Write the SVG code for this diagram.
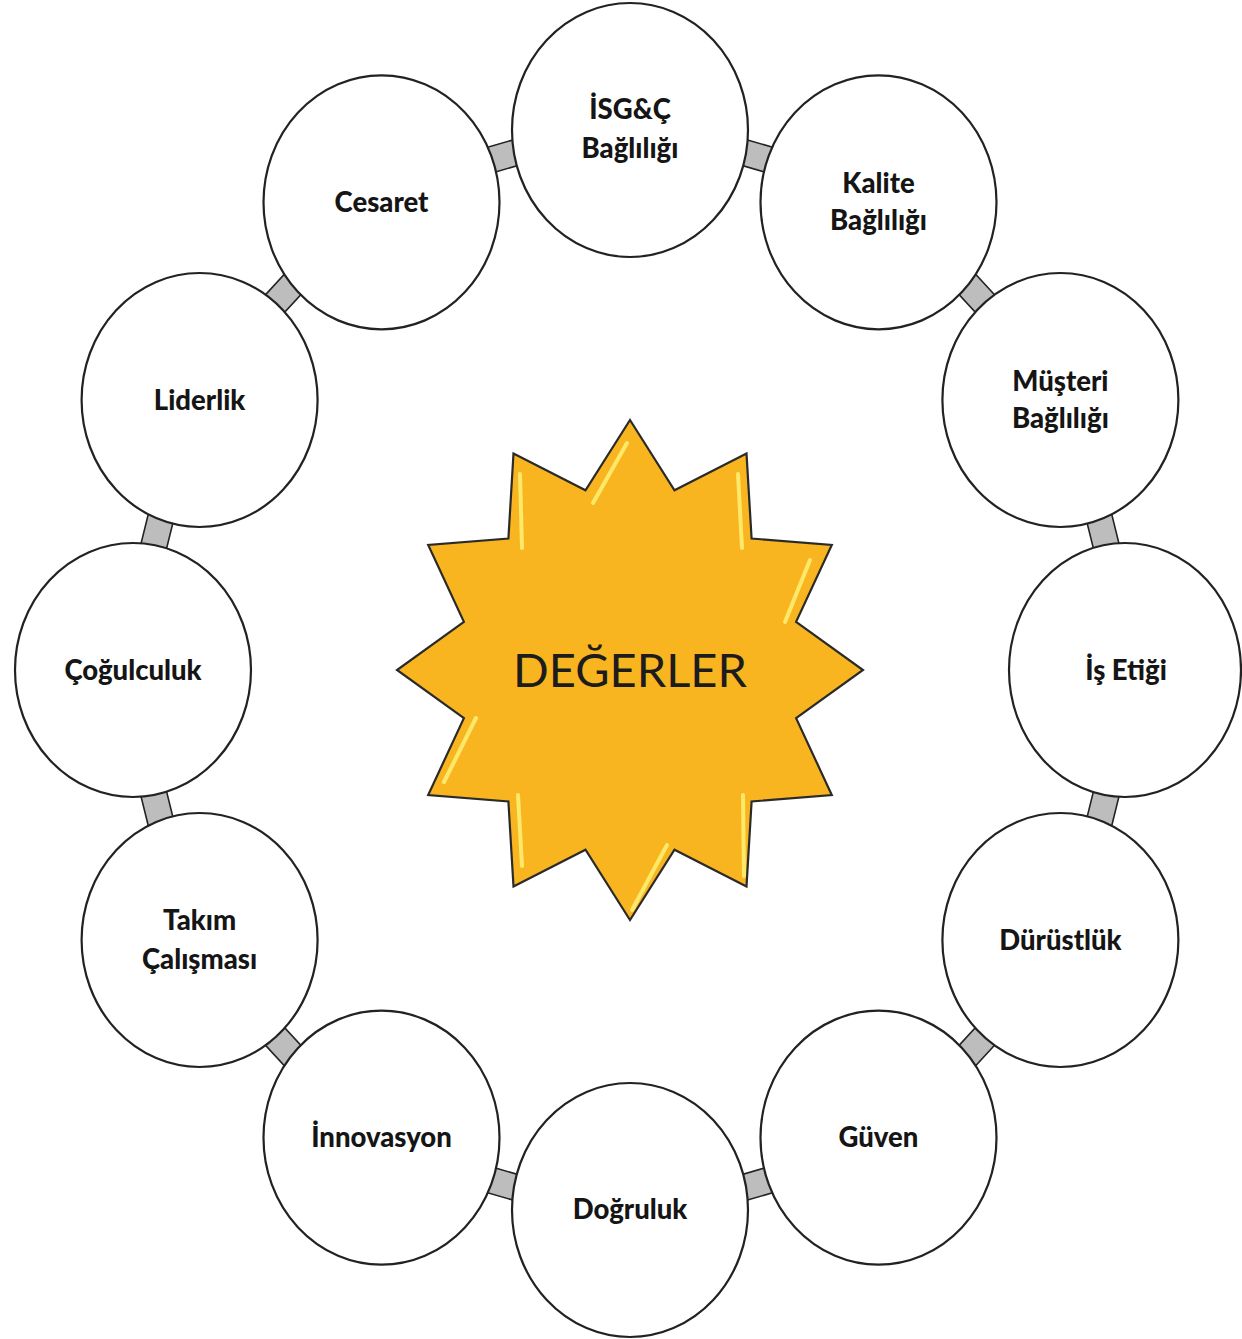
<svg xmlns="http://www.w3.org/2000/svg" width="1242" height="1339" viewBox="0 0 1242 1339">
<style>
.bub{fill:#fff;stroke:#222;stroke-width:2.2}
.lbl{font-family:Lato,"Open Sans","Liberation Sans",sans-serif;font-weight:900;font-size:27.5px;fill:#151515;text-anchor:middle}
.con{fill:#bdbdbd;stroke:#222;stroke-width:1.6}
.hl{stroke:#fdec6e;stroke-width:4;stroke-linecap:round;fill:none;opacity:0.95}
</style>
<rect width="1242" height="1339" fill="#fff"/>
<g id="connectors">
<rect class="con" x="-35" y="-13" width="70" height="26" transform="translate(756.7,156.2) rotate(16.2)"/>
<rect class="con" x="-35" y="-13" width="70" height="26" transform="translate(976.1,293.9) rotate(47.4)"/>
<rect class="con" x="-35" y="-13" width="70" height="26" transform="translate(1102.8,532.3) rotate(76.1)"/>
<rect class="con" x="-35" y="-13" width="70" height="26" transform="translate(1102.8,807.7) rotate(-76.1)"/>
<rect class="con" x="-35" y="-13" width="70" height="26" transform="translate(976.1,1046.1) rotate(-47.4)"/>
<rect class="con" x="-35" y="-13" width="70" height="26" transform="translate(756.7,1183.8) rotate(-16.2)"/>
<rect class="con" x="-35" y="-13" width="70" height="26" transform="translate(503.3,1183.8) rotate(16.2)"/>
<rect class="con" x="-35" y="-13" width="70" height="26" transform="translate(283.9,1046.1) rotate(47.4)"/>
<rect class="con" x="-35" y="-13" width="70" height="26" transform="translate(157.2,807.7) rotate(76.1)"/>
<rect class="con" x="-35" y="-13" width="70" height="26" transform="translate(157.2,532.3) rotate(-76.1)"/>
<rect class="con" x="-35" y="-13" width="70" height="26" transform="translate(283.9,293.9) rotate(-47.4)"/>
<rect class="con" x="-35" y="-13" width="70" height="26" transform="translate(503.3,156.2) rotate(-16.2)"/>
</g>
<g id="n-isg"><ellipse class="bub" cx="630" cy="130" rx="118" ry="127"/><text class="lbl" x="630" y="119">İSG&amp;Ç</text><text class="lbl" x="630" y="158">Bağlılığı</text></g>
<g id="n-kalite"><ellipse class="bub" cx="878.5" cy="202.3" rx="118" ry="127"/><text class="lbl" x="878.5" y="193">Kalite</text><text class="lbl" x="878.5" y="230">Bağlılığı</text></g>
<g id="n-musteri"><ellipse class="bub" cx="1060.4" cy="400" rx="118" ry="127"/><text class="lbl" x="1060.4" y="391">Müşteri</text><text class="lbl" x="1060.4" y="428">Bağlılığı</text></g>
<g id="n-isetigi"><ellipse class="bub" cx="1125" cy="670" rx="116" ry="127"/><text class="lbl" x="1126" y="680">İş Etiği</text></g>
<g id="n-durustluk"><ellipse class="bub" cx="1060.4" cy="940" rx="118" ry="127"/><text class="lbl" x="1060.4" y="950">Dürüstlük</text></g>
<g id="n-guven"><ellipse class="bub" cx="878.5" cy="1137.7" rx="118" ry="127"/><text class="lbl" x="878.5" y="1147">Güven</text></g>
<g id="n-dogruluk"><ellipse class="bub" cx="630" cy="1210" rx="118" ry="127"/><text class="lbl" x="630" y="1219">Doğruluk</text></g>
<g id="n-innovasyon"><ellipse class="bub" cx="381.5" cy="1137.7" rx="118" ry="127"/><text class="lbl" x="381.5" y="1147">İnnovasyon</text></g>
<g id="n-takim"><ellipse class="bub" cx="199.6" cy="940" rx="118" ry="127"/><text class="lbl" x="199.6" y="930">Takım</text><text class="lbl" x="199.6" y="969">Çalışması</text></g>
<g id="n-cogulculuk"><ellipse class="bub" cx="133" cy="670" rx="118" ry="127"/><text class="lbl" x="133" y="680">Çoğulculuk</text></g>
<g id="n-liderlik"><ellipse class="bub" cx="199.6" cy="400" rx="118" ry="127"/><text class="lbl" x="199.6" y="410">Liderlik</text></g>
<g id="n-cesaret"><ellipse class="bub" cx="381.5" cy="202.3" rx="118" ry="127"/><text class="lbl" x="381.5" y="212">Cesaret</text></g>
<g id="center">
<polygon fill="#f8b520" stroke="#2a2a2a" stroke-width="2.2" stroke-linejoin="miter" points="630,420 674.5,490.3 746.5,453.5 751.6,538.5 831.8,545 796.1,621.9 863,670 796.1,718.1 831.8,795 751.6,801.5 746.5,886.5 674.5,849.7 630,920 585.5,849.7 513.5,886.5 508.4,801.5 428.2,795 463.9,718.1 397,670 463.9,621.9 428.2,545 508.4,538.5 513.5,453.5 585.5,490.3"/>
<line class="hl" x1="593" y1="503" x2="627" y2="443"/>
<line class="hl" x1="520" y1="474" x2="522" y2="548"/>
<line class="hl" x1="738" y1="474" x2="742" y2="548"/>
<line class="hl" x1="810" y1="560" x2="785" y2="622"/>
<line class="hl" x1="476" y1="718" x2="444" y2="782"/>
<line class="hl" x1="518" y1="795" x2="522" y2="866"/>
<line class="hl" x1="743" y1="795" x2="744" y2="876"/>
<line class="hl" x1="667" y1="845" x2="632" y2="910"/>
<text x="630" y="687" font-family="Lato,'Open Sans','Liberation Sans',sans-serif" font-size="47" fill="#1c1c1c" text-anchor="middle">DEĞERLER</text>
</g>
</svg>
